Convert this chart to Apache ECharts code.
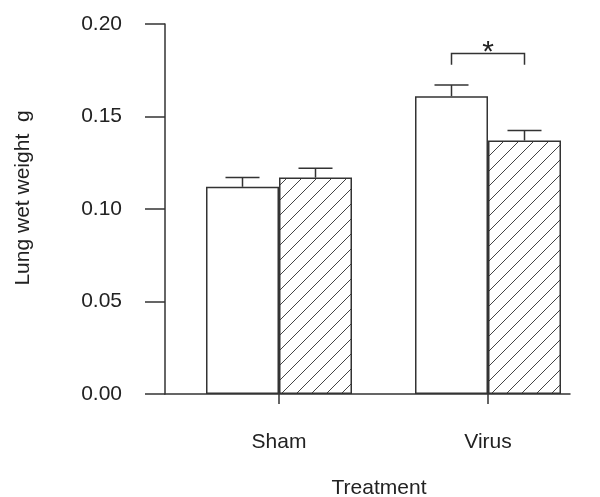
<!DOCTYPE html>
<html>
<head>
<meta charset="utf-8">
<script src="https://cdn.jsdelivr.net/npm/echarts@6/dist/echarts.min.js"></script>
<style>html,body{margin:0;padding:0;background:#fff}#c{width:600px;height:497px}</style>
</head>
<body>
<div id="c"></div>
<script>
// ---- data ----
var categories = ['Sham', 'Virus'];
var groupNames = ['Control', 'Treated'];
var openValues = [0.112, 0.161];
var openErrors = [0.005, 0.006];
var hatchedValues = [0.117, 0.137];
var hatchedErrors = [0.005, 0.0055];
var yTicks = [0, 0.05, 0.10, 0.15, 0.20];
var sigCategory = 'Virus';
var sigLevel = 0.184;
var sigDrop = 0.006;
var sigLabel = '*';
var xTitle = 'Treatment';
var yTitle = 'Lung wet weight  g';

// ---- style ----
var ink = '#333';
var textColor = '#222';
var font = '"Liberation Sans", Arial, Helvetica, sans-serif';
var barW = 73;
var capW = 34;

function hatchPattern() {
  var s = 15;
  var cv = document.createElement('canvas');
  cv.width = s; cv.height = s;
  var ctx = cv.getContext('2d');
  ctx.fillStyle = '#fff';
  ctx.fillRect(0, 0, s, s);
  ctx.strokeStyle = '#444';
  ctx.lineWidth = 1;
  ctx.beginPath();
  ctx.moveTo(-2, s + 2); ctx.lineTo(s + 2, -2);
  ctx.moveTo(-2, 2); ctx.lineTo(2, -2);
  ctx.moveTo(s - 2, s + 2); ctx.lineTo(s + 2, s - 2);
  ctx.stroke();
  return { image: cv, repeat: 'repeat' };
}

function errorSeries(values, errors, side) {
  return {
    type: 'custom',
    xAxisIndex: 1, yAxisIndex: 1,
    silent: true,
    z: 5,
    data: values.map(function (v, i) { return [i, v, errors[i]]; }),
    renderItem: function (params, api) {
      var i = api.value(0), v = api.value(1), e = api.value(2);
      var base = api.coord([i, v]);
      var top = api.coord([i, v + e]);
      var x = base[0] + side * barW / 2;
      return {
        type: 'group',
        children: [
          { type: 'line', shape: { x1: x, y1: base[1], x2: x, y2: top[1] }, style: { stroke: ink, lineWidth: 1.5 } },
          { type: 'line', shape: { x1: x - capW / 2, y1: top[1], x2: x + capW / 2, y2: top[1] }, style: { stroke: ink, lineWidth: 1.5 } }
        ]
      };
    }
  };
}

var chart = echarts.init(document.getElementById('c'));
var sigIdx = categories.indexOf(sigCategory);

chart.setOption({
  backgroundColor: '#fff',
  animation: false,
  grid: [
    { left: 165, right: 30, top: 24, bottom: 103 },
    { left: 174.5, right: 7.5, top: 24, bottom: 103 }
  ],
  xAxis: [
    { type: 'value', gridIndex: 0, min: 0, max: 1,
      axisLine: { show: true, lineStyle: { color: ink, width: 1.5 } },
      axisTick: { show: false }, axisLabel: { show: false }, splitLine: { show: false } },
    { type: 'category', gridIndex: 1, data: categories,
      axisLine: { show: false },
      axisTick: { show: true, alignWithLabel: true, length: 10, lineStyle: { color: ink, width: 1.5 } },
      axisLabel: { margin: 38, color: textColor, fontSize: 21, fontFamily: font },
      splitLine: { show: false } }
  ],
  yAxis: [
    { type: 'value', gridIndex: 0, show: false, min: 0, max: 0.2 },
    { type: 'value', gridIndex: 1, min: yTicks[0], max: yTicks[yTicks.length - 1], interval: 0.05, offset: 9.5,
      axisLine: { show: true, lineStyle: { color: ink, width: 1.5 } },
      axisTick: { show: true, length: 20, lineStyle: { color: ink, width: 1.5 } },
      axisLabel: { margin: 43, color: textColor, fontSize: 21, fontFamily: font,
        formatter: function (v) { return v.toFixed(2); } },
      splitLine: { show: false } }
  ],
  series: [
    { name: groupNames[0], type: 'bar', xAxisIndex: 1, yAxisIndex: 1, data: openValues,
      barWidth: barW, barGap: '0%',
      itemStyle: { color: '#fff', borderColor: ink, borderWidth: 1.5 } },
    { name: groupNames[1], type: 'bar', xAxisIndex: 1, yAxisIndex: 1, data: hatchedValues,
      barWidth: barW, barGap: '0%',
      itemStyle: { color: hatchPattern(), borderColor: ink, borderWidth: 1.5 } },
    errorSeries(openValues, openErrors, -1),
    errorSeries(hatchedValues, hatchedErrors, 1),
    { type: 'custom', xAxisIndex: 1, yAxisIndex: 1, silent: true, z: 6,
      data: [[sigIdx, sigLevel, sigDrop]],
      renderItem: function (params, api) {
        var i = api.value(0), lvl = api.value(1), d = api.value(2);
        var p = api.coord([i, lvl]);
        var q = api.coord([i, lvl - d]);
        var x1 = p[0] - barW / 2, x2 = p[0] + barW / 2;
        return {
          type: 'group',
          children: [
            { type: 'polyline', shape: { points: [[x1, q[1]], [x1, p[1]], [x2, p[1]], [x2, q[1]]] },
              style: { stroke: ink, lineWidth: 1.5, fill: null } },
            { type: 'text', style: { text: sigLabel, x: p[0], y: p[1] - 1, align: 'center', verticalAlign: 'middle',
              fill: textColor, font: '30px ' + font } }
          ]
        };
      }
    }
  ],
  graphic: [
    { type: 'text', x: 379, y: 488,
      style: { text: xTitle, align: 'center', verticalAlign: 'middle', fill: textColor, font: '21px ' + font } },
    { type: 'text', x: 23, y: 198, rotation: Math.PI / 2,
      style: { text: yTitle, align: 'center', verticalAlign: 'middle', fill: textColor, font: '21px ' + font } }
  ]
});
</script>
</body>
</html>
